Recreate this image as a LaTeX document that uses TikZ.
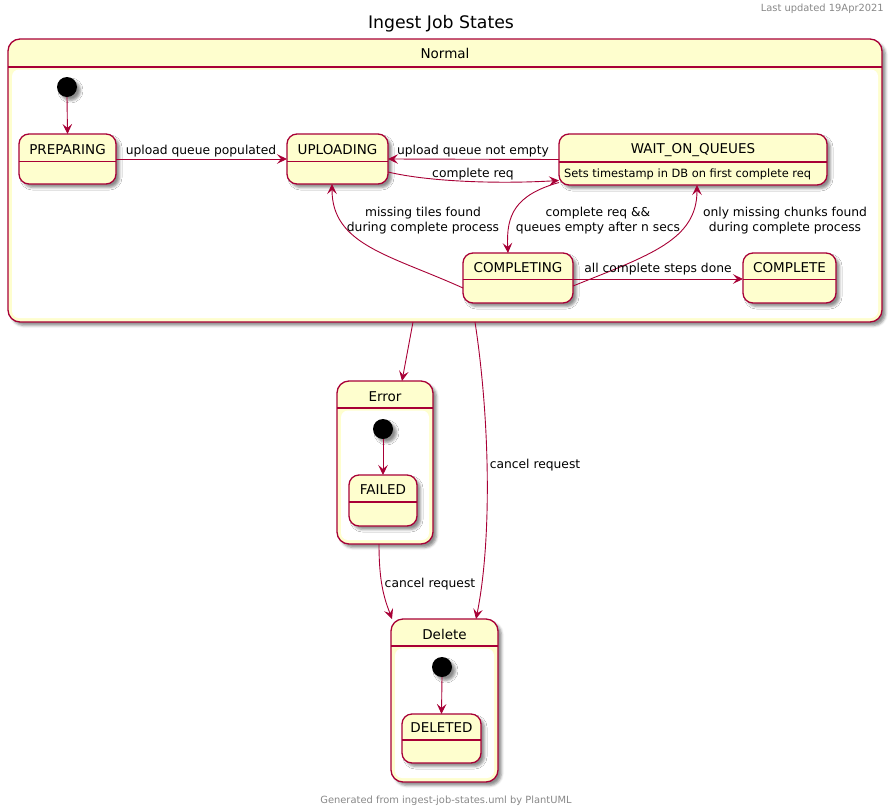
\documentclass[tikz,border=0pt]{standalone}
\usepackage{fontspec}
\setmainfont{DejaVu Sans}
\usetikzlibrary{arrows.meta,shadows.blur}
\definecolor{pfill}{HTML}{FEFECE}
\definecolor{pline}{HTML}{A80036}
\definecolor{pgray}{HTML}{888888}
\tikzset{
  shad/.style={blur shadow={shadow xshift=3.5pt, shadow yshift=-3.5pt, shadow blur radius=2.5pt, shadow opacity=45}},
  stbox/.style={shad, rectangle, draw=pline, fill=pfill, line width=1.3pt, rounded corners=10pt, inner sep=0pt, outer sep=0pt},
  cbox/.style={stbox, rounded corners=12pt},
  inner/.style={fill=white, rounded corners=7pt},
  initc/.style={shad, circle, fill=black, minimum size=20pt, inner sep=0pt, outer sep=0pt},
  sname/.style={font=\fontsize{13.5}{15}\selectfont, anchor=base, inner sep=0pt},
  desc/.style={font=\fontsize{11.4}{14}\selectfont, anchor=base west, inner sep=0pt},
  lbl/.style={font=\fontsize{12.3}{15}\selectfont, inner sep=0pt, align=center},
  small/.style={font=\fontsize{9.9}{11}\selectfont, text=pgray, inner sep=0pt},
  tr/.style={draw=pline, line width=0.9pt, -{Stealth[length=10pt,width=9.5pt,inset=4pt]}},
  divl/.style={draw=pline, line width=1.3pt},
}
\begin{document}
\begin{tikzpicture}[x=1pt,y=-1pt]
\useasboundingbox (0,0) rectangle (892,809);

% header texts
\node[small, anchor=base east] (upd) at (884,11) {Last updated 19Apr2021};
\node[font=\fontsize{17.3}{20}\selectfont, anchor=base, inner sep=0pt] (title) at (441,28) {Ingest Job States};

% ---------- Normal ----------
\node[cbox, minimum width=874pt, minimum height=283pt] (normal) at (445,180.5) {};
\draw[divl] (normal.west |- 0,67) -- (normal.east |- 0,67);
\fill[inner] (12,69.5) rectangle (878,318);
\node[sname] (normalt) at (445,58) {Normal};

\node[initc] (n0) at (67,87) {};

\node[stbox, minimum width=97pt, minimum height=50pt] (prep) at (67.5,159) {};
\draw[divl] (prep.west |- 0,161.5) -- (prep.east |- 0,161.5);
\node[sname] (prept) at (67.5,154) {PREPARING};

\node[stbox, minimum width=101pt, minimum height=50pt] (upl) at (337.5,159) {};
\draw[divl] (upl.west |- 0,161.5) -- (upl.east |- 0,161.5);
\node[sname] (uplt) at (337.5,154) {UPLOADING};

\node[stbox, minimum width=268pt, minimum height=51pt] (wait) at (693,159.5) {};
\draw[divl] (wait.west |- 0,162) -- (wait.east |- 0,162);
\node[sname] (waitt) at (693,153.5) {WAIT\_ON\_QUEUES};
\node[desc] (waitd) at (564,177) {Sets timestamp in DB on first complete req};

\node[stbox, minimum width=110pt, minimum height=50pt] (cing) at (518,278) {};
\draw[divl] (cing.west |- 0,279.5) -- (cing.east |- 0,279.5);
\node[sname] (cingt) at (518,272) {COMPLETING};

\node[stbox, minimum width=93pt, minimum height=50pt] (cete) at (789.5,278) {};
\draw[divl] (cete.west |- 0,279.5) -- (cete.east |- 0,279.5);
\node[sname] (cetet) at (789.5,272) {COMPLETE};

% ---------- Error ----------
\node[cbox, minimum width=96pt, minimum height=163pt] (error) at (385,462.5) {};
\draw[divl] (error.west |- 0,408) -- (error.east |- 0,408);
\fill[inner] (341,410.5) rectangle (429,540);
\node[sname] (errort) at (385,401) {Error};
\node[initc] (e0) at (383,429) {};
\node[stbox, minimum width=68pt, minimum height=51pt] (failed) at (383,500.5) {};
\draw[divl] (failed.west |- 0,502) -- (failed.east |- 0,502);
\node[sname] (failedt) at (383,494) {FAILED};

% ---------- Delete ----------
\node[cbox, minimum width=107pt, minimum height=163pt] (delete) at (444.5,700.5) {};
\draw[divl] (delete.west |- 0,646) -- (delete.east |- 0,646);
\fill[inner] (395,648.5) rectangle (494,778);
\node[sname] (deletet) at (444.5,639) {Delete};
\node[initc] (d0) at (442,667) {};
\node[stbox, minimum width=79pt, minimum height=49pt] (deleted) at (441.5,738.5) {};
\draw[divl] (deleted.west |- 0,740) -- (deleted.east |- 0,740);
\node[sname] (deletedt) at (441.5,732) {DELETED};

% ---------- transitions ----------
\draw[tr] (n0.south) -- (prep.north);
\draw[tr] (prep.east) -- (upl.west);
\node[lbl, anchor=base] (l1) at (201,154) {upload queue populated};
\draw[tr] (wait.west) -- (upl.east);
\node[lbl, anchor=base] (l2) at (473,154) {upload queue not empty};
\draw[tr] ([yshift=-13pt]upl.east) .. controls (430,182) and (500,184) .. ([yshift=-21pt]wait.west);
\node[lbl, anchor=base] (l3) at (473,177) {complete req};
\draw[tr] ([yshift=-23pt]wait.west) .. controls (515,195) and (506,215) .. ([xshift=-10pt]cing.north);
\node[lbl] (l4) at (598,221) {complete req \&\&\\queues empty after n secs};
\draw[tr] ([yshift=-10pt]cing.west) .. controls (390,255) and (332,245) .. ([xshift=-5.5pt]upl.south);
\node[lbl] (l5) at (423,221) {missing tiles found\\during complete process};
\draw[tr] ([yshift=-8pt]cing.east) .. controls (650,255) and (697,240) .. ([xshift=4pt]wait.south);
\node[lbl] (l6) at (785,221) {only missing chunks found\\during complete process};
\draw[tr] ([yshift=-1pt]cing.east) -- ([yshift=-1pt]cete.west);
\node[lbl, anchor=base] (l7) at (658,272) {all complete steps done};

\draw[tr] ([xshift=-32pt]normal.south) -- ([xshift=17pt]error.north);
\draw[tr] ([xshift=30pt]normal.south) .. controls (490,420) and (492,540) .. ([xshift=31.5pt]delete.north);
\node[lbl, anchor=base] (l8) at (535,468) {cancel request};
\draw[tr] (e0.south) -- (failed.north);
\draw[tr] ([xshift=-6pt]error.south) .. controls (379,585) and (385,600) .. ([xshift=-52.5pt]delete.north);
\node[lbl, anchor=base] (l9) at (430,587) {cancel request};
\draw[tr] (d0.south) -- (deleted.north);

\node[small, anchor=base] (foot) at (446,803) {Generated from ingest-job-states.uml by PlantUML};
\end{tikzpicture}
\end{document}
